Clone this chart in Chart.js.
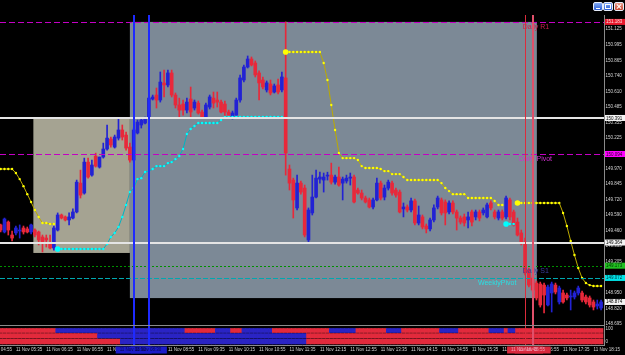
<!DOCTYPE html>
<html>
<head>
<meta charset="utf-8">
<script src="https://cdn.jsdelivr.net/npm/chart.js@4.4.0/dist/chart.umd.min.js"></script>
<style>
html, body { margin: 0; padding: 0; background: #000; }
#wrap { position: relative; width: 625px; height: 355px; overflow: hidden; background: #000; }
#c { position: absolute; left: 0; top: 0; }
.wb { position: absolute; top: 2px; width: 10px; height: 9px; box-sizing: border-box;
      border: 1px solid #e6ecfa; border-radius: 2px; background: linear-gradient(#82aaf4, #2a5cd4); }
.wb.cls { background: linear-gradient(#eaa090, #c8442e); }
.wb::after, .wb::before { content: ""; position: absolute; }
.wb.min::after { left: 2px; bottom: 1px; width: 4px; height: 1px; background: #fff; }
.wb.max::after { left: 1px; top: 1px; width: 4px; height: 3px; border: 1px solid #fff; }
.wb.cls::after, .wb.cls::before { left: 1px; top: 3px; width: 6px; height: 1px; background: #fff; }
.wb.cls::after { transform: rotate(45deg); }
.wb.cls::before { transform: rotate(-45deg); }
</style>
</head>
<body>
<div id="wrap">
  <canvas id="c" width="625" height="355"></canvas>
  <div class="wb min" style="left:593px"></div>
  <div class="wb max" style="left:603px"></div>
  <div class="wb cls" style="left:614px"></div>
</div>
<script>
// 5 minute bars, bar 0 = 11 Nov 05:15
var opens = [149.509,149.451,149.533,149.426,149.443,149.459,149.484,149.476,149.451,149.467,
  149.451,149.410,149.401,149.360,149.319,149.467,149.591,149.575,149.550,149.566,
  149.616,149.854,149.772,150.027,149.920,150.077,149.986,150.069,150.135,150.217,
  150.151,150.225,150.292,150.250,150.151,150.044,150.267,150.333,150.349,150.399,
  150.547,150.580,150.539,150.679,150.663,150.762,150.580,150.498,150.506,150.456,
  150.547,150.473,150.514,150.440,150.399,150.481,150.555,150.539,150.522,150.506,
  150.440,150.399,150.415,150.539,150.704,150.811,150.877,150.844,150.762,150.704,
  150.622,150.671,150.605,150.663,150.622,150.721,149.970,149.879,149.649,149.854,
  149.813,149.385,149.608,149.739,149.887,149.879,149.912,149.920,149.862,149.904,
  149.854,149.871,149.895,149.904,149.797,149.772,149.731,149.715,149.657,149.715,
  149.854,149.739,149.813,149.854,149.797,149.780,149.641,149.657,149.632,149.707,
  149.525,149.575,149.500,149.476,149.550,149.657,149.715,149.698,149.616,149.690,
  149.616,149.566,149.575,149.550,149.616,149.575,149.616,149.608,149.575,149.690,
  149.616,149.566,149.616,149.575,149.715,149.616,149.533,149.443,149.368,149.137,
  149.071,149.030,149.022,149.013,148.849,148.948,149.013,148.874,148.948,148.931,
  148.915,148.915,148.948,148.948,148.915,148.907,148.874,148.841,148.824];
var highs = [149.517,149.566,149.542,149.459,149.500,149.509,149.500,149.492,149.517,149.476,
  149.459,149.426,149.426,149.426,149.500,149.608,149.599,149.583,149.608,149.641,
  149.879,149.961,150.060,150.060,150.044,150.101,150.069,150.184,150.333,150.234,
  150.250,150.390,150.333,150.275,150.184,150.308,150.374,150.390,150.399,150.572,
  150.580,150.638,150.770,150.786,150.786,150.786,150.597,150.555,150.539,150.555,
  150.646,150.539,150.531,150.456,150.514,150.580,150.605,150.605,150.539,150.531,
  150.456,150.448,150.555,150.745,150.828,150.902,150.894,150.861,150.779,150.729,
  150.696,150.704,150.671,150.712,150.770,151.183,150.003,149.895,149.920,149.871,
  149.838,149.649,149.920,149.961,149.944,149.937,149.944,150.019,149.920,149.986,
  149.904,149.920,149.937,149.920,149.813,149.797,149.747,149.731,149.731,149.895,
  149.871,149.838,149.879,149.871,149.813,149.797,149.690,149.674,149.731,149.723,
  149.665,149.591,149.517,149.566,149.674,149.747,149.731,149.715,149.707,149.707,
  149.632,149.583,149.599,149.616,149.632,149.632,149.632,149.649,149.690,149.707,
  149.632,149.632,149.632,149.747,149.731,149.632,149.566,149.467,149.401,149.154,
  149.096,149.046,149.038,149.030,149.013,149.038,149.030,149.005,148.972,148.948,
  148.972,148.964,149.005,148.964,148.931,148.923,148.890,148.890,148.890];
var lows = [149.451,149.443,149.426,149.377,149.426,149.401,149.434,149.443,149.434,149.410,
  149.344,149.286,149.327,149.311,149.302,149.459,149.558,149.542,149.509,149.558,
  149.608,149.731,149.763,149.895,149.912,149.986,149.978,150.060,150.126,150.151,
  150.143,150.209,150.209,150.126,150.027,150.027,150.259,150.308,150.341,150.390,
  150.539,150.473,150.522,150.564,150.646,150.564,150.473,150.399,150.415,150.432,
  150.399,150.456,150.423,150.390,150.390,150.465,150.473,150.481,150.432,150.399,
  150.399,150.382,150.399,150.522,150.688,150.803,150.820,150.729,150.539,150.630,
  150.605,150.581,150.597,150.589,150.605,149.920,149.797,149.566,149.632,149.763,
  149.410,149.360,149.591,149.731,149.854,149.780,149.879,149.846,149.846,149.829,
  149.715,149.854,149.838,149.690,149.763,149.715,149.690,149.649,149.641,149.707,
  149.715,149.715,149.797,149.755,149.739,149.608,149.575,149.616,149.616,149.509,
  149.509,149.476,149.443,149.459,149.533,149.641,149.591,149.509,149.599,149.599,
  149.467,149.517,149.500,149.484,149.500,149.550,149.542,149.591,149.566,149.632,
  149.558,149.550,149.550,149.558,149.550,149.500,149.418,149.344,149.096,148.997,
  148.956,148.890,148.832,148.783,148.841,148.791,148.940,148.857,148.865,148.890,
  148.808,148.898,148.931,148.874,148.857,148.832,148.808,148.816,148.808];
var closes = [149.467,149.558,149.467,149.401,149.484,149.467,149.451,149.451,149.509,149.426,
  149.385,149.360,149.385,149.319,149.484,149.591,149.566,149.550,149.575,149.616,
  149.862,149.755,150.027,149.904,150.003,149.994,150.069,150.135,150.225,150.168,
  150.234,150.292,150.234,150.143,150.044,150.292,150.357,150.374,150.382,150.555,
  150.564,150.539,150.687,150.663,150.762,150.580,150.498,150.456,150.456,150.522,
  150.440,150.522,150.432,150.399,150.498,150.564,150.514,150.522,150.440,150.440,
  150.415,150.432,150.539,150.721,150.811,150.877,150.828,150.746,150.680,150.647,
  150.680,150.597,150.655,150.605,150.729,150.102,149.854,149.715,149.854,149.780,
  149.426,149.632,149.739,149.895,149.904,149.904,149.920,149.862,149.904,149.838,
  149.887,149.895,149.904,149.698,149.772,149.731,149.698,149.657,149.715,149.854,
  149.731,149.813,149.862,149.772,149.755,149.616,149.657,149.632,149.707,149.525,
  149.591,149.492,149.476,149.550,149.649,149.731,149.608,149.608,149.690,149.616,
  149.566,149.533,149.525,149.575,149.533,149.616,149.566,149.632,149.674,149.649,
  149.575,149.616,149.566,149.731,149.575,149.509,149.426,149.368,149.113,149.013,
  148.972,148.907,148.849,148.931,148.997,149.022,148.956,148.989,148.874,148.907,
  148.923,148.948,148.989,148.890,148.874,148.849,148.832,148.857,148.874];

// trailing stop, yellow above price
var stopDown = [149.970,149.970,149.970,149.970,149.937,149.887,149.829,149.763,149.698,149.632,
  149.575,149.525,149.525,149.517,149.517,null,null,null,null,null,
  null,null,null,null,null,null,null,null,null,null,
  null,null,null,null,null,null,null,null,null,null,
  null,null,null,null,null,null,null,null,null,null,
  null,null,null,null,null,null,null,null,null,null,
  null,null,null,null,null,null,null,null,null,null,
  null,null,null,null,null,150.935,150.935,150.935,150.935,150.935,
  150.935,150.935,150.935,150.935,150.935,150.844,150.704,150.498,150.292,150.102,
  150.060,150.060,150.060,150.060,150.044,149.994,149.978,149.978,149.978,149.978,
  149.970,149.953,149.953,149.928,149.928,149.928,149.904,149.879,149.879,149.879,
  149.879,149.879,149.879,149.879,149.879,149.879,149.854,149.813,149.788,149.763,
  149.763,149.763,149.763,149.731,149.731,149.731,149.731,149.731,149.731,149.731,
  149.707,149.674,149.674,null,null,null,149.690,149.690,149.690,149.690,
  149.690,149.690,149.690,149.690,149.690,149.690,149.690,149.690,149.608,149.500,
  149.377,149.261,149.154,149.071,149.030,149.013,149.005,149.005,149.005];
// trailing stop, cyan below price
var stopUp = [null,null,null,null,null,null,null,null,null,null,
  null,null,null,null,null,149.311,149.311,149.311,149.311,149.311,
  149.311,149.311,149.311,149.311,149.311,149.311,149.311,149.311,149.352,149.410,
  149.443,149.492,149.575,149.674,149.780,149.813,149.887,149.895,149.945,149.953,
  149.970,149.994,149.994,149.994,150.019,150.027,150.052,150.077,150.135,150.259,
  150.300,150.325,150.349,150.349,150.349,150.349,150.349,150.349,150.374,150.399,
  150.399,150.399,150.399,150.399,150.399,150.399,150.399,150.399,150.399,150.399,
  150.399,150.399,150.399,150.399,150.399,null,null,null,null,null,
  null,null,null,null,null,null,null,null,null,null,
  null,null,null,null,null,null,null,null,null,null,
  null,null,null,null,null,null,null,null,null,null,
  null,null,null,null,null,null,null,null,null,null,
  null,null,null,null,null,null,null,null,null,null,
  null,null,null,149.517,149.517,149.517,null,null,null,null,
  null,null,null,null,null,null,null,null,null,null,
  null,null,null,null,null,null,null,null,null];
var stopStarts = [15, 75, 133, 136];

// trend strips in the sub window, run lengths from the left
var trendRow1 = [['dn',15],['up',34],['dn',8],['up',4],['dn',3],['up',8],['dn',15],['up',7],['dn',8],
  ['up',4],['dn',10],['up',5],['dn',8],['up',4],['dn',1],['up',2],['dn',23]];
var trendRow2 = [['dn',26],['up',55],['dn',78]];
var trendRow3 = [['dn',32],['up',49],['dn',78]];

// horizontal levels
var levelNames = ['Daily R1', '', 'Daily Pivot', '', 'Daily S1', 'WeeklyPivot'];
var levelPrices = [151.183, 150.391, 150.094, 149.364, 149.173, 149.072];
var levelLabelBars = [137.4, null, 136.4, null, 137.4, 125.6];

// rectangles (bar from, bar to, high, low)
var zoneFrom = [8.6, 34];
var zoneTo = [34, 141.1];
var zoneHigh = [150.391, 151.183];
var zoneLow = [149.278, 148.906];

// vertical lines
var vlineBars = [35, 39, 138, 140];
var vlineLabels = ['11 Nov 08:10', '11 Nov 08:30', '11 Nov 16:45', '11 Nov 16:55'];

// axis ticks
var timeTicks = [-4, 4, 12, 20, 28, 36, 44, 52, 60, 68, 76, 84, 92, 100, 108, 116, 124, 132, 140, 148, 156];
var timeTickLabels = ['11 Nov 04:55', '11 Nov 05:35', '11 Nov 06:15', '11 Nov 06:55', '11 Nov 07:35', '11 Nov 08:15',
  '11 Nov 08:55', '11 Nov 09:35', '11 Nov 10:15', '11 Nov 10:55', '11 Nov 11:35', '11 Nov 12:15', '11 Nov 12:55',
  '11 Nov 13:35', '11 Nov 14:15', '11 Nov 14:55', '11 Nov 15:35', '11 Nov 16:15', '11 Nov 16:55', '11 Nov 17:35', '11 Nov 18:15'];
var priceTicks = [151.125, 150.995, 150.865, 150.740, 150.610, 150.485, 150.355, 150.225, 149.970, 149.845,
  149.720, 149.590, 149.460, 149.335, 149.205, 148.950, 148.820, 148.695];
var subTicks = [100, 0];

// ---- styles ----
var BULL = '#2222d4', BEAR = '#e8283a';
var TREND = {up: '#2a24c4', dn: '#e22a3c'};
var rowBands = [[73, 104], [31, 65], [-15, 23]];
var zoneColors = ['#a5a392', '#7c8996'];
var levelStyles = [
  {color: '#c400c4', width: 1, dash: [6, 3], text: '#c8204c', box: '#e8182c', boxText: '#ffe0e0'},
  {color: '#e4e4e4', width: 2, dash: [], box: '#f4f4f4', boxText: '#000'},
  {color: '#c400c4', width: 1, dash: [6, 3], text: '#d030d0', box: '#ff00ff', boxText: '#200020'},
  {color: '#e4e4e4', width: 2, dash: [], box: '#f4f4f4', boxText: '#000'},
  {color: '#009000', width: 1, dash: [2, 2], text: '#3c3ca0', box: '#22c022', boxText: '#003000'},
  {color: '#00a8b0', width: 1, dash: [5, 2], text: '#28e0e4', box: '#00e4e8', boxText: '#003038'}
];
var vlineStyles = [
  {color: '#1e2aff', width: 2, box: '#1c1cc8', text: '#0a0a50'},
  {color: '#1e2aff', width: 2, box: '#1c1cc8', text: '#0a0a50'},
  {color: '#dc2c3c', width: 1, box: '#d8283c', text: '#f0a0b8'},
  {color: '#e0506a', width: 2, box: '#d8283c', text: '#f0a0b8'}
];
var FONT = '"Liberation Sans", Arial, sans-serif';

var bars = opens.map(function (v, i) { return i; });
var candleColors = bars.map(function (i) { return closes[i] >= opens[i] ? BULL : BEAR; });

function expand(runs) {
  var out = [];
  runs.forEach(function (r) { for (var k = 0; k < r[1]; k++) out.push(TREND[r[0]]); });
  return out;
}

function stopDataset(values, lineColor, dotColor) {
  return {
    type: 'line',
    data: values.map(function (v, i) { return {x: i, y: v}; }),
    borderColor: lineColor,
    borderWidth: 1,
    pointBackgroundColor: dotColor,
    pointBorderWidth: 0,
    pointRadius: function (c) { return stopStarts.indexOf(c.dataIndex) >= 0 ? 2.8 : 1.2; },
    spanGaps: false,
    tension: 0,
    order: 0
  };
}

function rowDataset(runs, band) {
  return {
    type: 'bar',
    yAxisID: 'y2',
    data: bars.map(function (i) { return {x: i, y: band}; }),
    backgroundColor: expand(runs),
    barThickness: 3.9,
    grouped: false,
    order: 4
  };
}

var overlay = {
  id: 'overlay',
  beforeDatasetsDraw: function (chart) {
    var ctx = chart.ctx, x = chart.scales.x, y = chart.scales.y;
    ctx.save();
    zoneFrom.forEach(function (from, k) {
      var x0 = x.getPixelForValue(from), x1 = x.getPixelForValue(zoneTo[k]);
      var y0 = y.getPixelForValue(zoneHigh[k]), y1 = y.getPixelForValue(zoneLow[k]);
      ctx.fillStyle = zoneColors[k];
      ctx.fillRect(x0, y0, x1 - x0, y1 - y0);
    });
    ctx.restore();
  },
  afterDatasetsDraw: function (chart) {
    var ctx = chart.ctx, ca = chart.chartArea, x = chart.scales.x, y = chart.scales.y;
    ctx.save();
    levelPrices.forEach(function (p, k) {
      var st = levelStyles[k];
      var py = Math.round(y.getPixelForValue(p)) + (st.width % 2 ? 0.5 : 0);
      ctx.strokeStyle = st.color;
      ctx.lineWidth = st.width;
      ctx.setLineDash(st.dash);
      ctx.beginPath();
      ctx.moveTo(ca.left, py);
      ctx.lineTo(ca.right, py);
      ctx.stroke();
    });
    ctx.setLineDash([]);
    ctx.font = '7px ' + FONT;
    ctx.textBaseline = 'top';
    levelNames.forEach(function (name, k) {
      if (!name) return;
      ctx.fillStyle = levelStyles[k].text;
      ctx.fillText(name, x.getPixelForValue(levelLabelBars[k]), y.getPixelForValue(levelPrices[k]) + 1.5);
    });
    vlineBars.forEach(function (b, k) {
      var st = vlineStyles[k];
      var px = Math.round(x.getPixelForValue(b)) + (st.width % 2 ? 0.5 : 0);
      ctx.strokeStyle = st.color;
      ctx.lineWidth = st.width;
      ctx.beginPath();
      ctx.moveTo(px, ca.top);
      ctx.lineTo(px, ca.bottom);
      ctx.stroke();
    });
    ctx.restore();
  },
  afterDraw: function (chart) {
    var ctx = chart.ctx, ca = chart.chartArea, x = chart.scales.x, y = chart.scales.y, y2 = chart.scales.y2;
    ctx.save();
    // sub window separator
    ctx.strokeStyle = '#8a8a8a';
    ctx.lineWidth = 1;
    ctx.beginPath();
    ctx.moveTo(ca.left, Math.round(y2.top) + 0.5);
    ctx.lineTo(ca.right, Math.round(y2.top) + 0.5);
    ctx.stroke();
    // price boxes on the right scale
    ctx.font = '4.5px ' + FONT;
    ctx.textBaseline = 'middle';
    var boxes = levelPrices.map(function (p, k) { return {p: p, bg: levelStyles[k].box, fg: levelStyles[k].boxText}; });
    boxes.push({p: closes[closes.length - 1], bg: '#f4f4f4', fg: '#000'});
    boxes.forEach(function (b) {
      var py = y.getPixelForValue(b.p);
      ctx.fillStyle = b.bg;
      ctx.fillRect(ca.right + 1, py - 3, chart.width - ca.right - 1, 6);
      ctx.fillStyle = b.fg;
      ctx.fillText(b.p.toFixed(3), ca.right + 2, py + 0.3);
    });
    // time boxes for the vertical lines
    ctx.textBaseline = 'top';
    vlineBars.forEach(function (b, k) {
      var st = vlineStyles[k];
      var px = x.getPixelForValue(b);
      ctx.fillStyle = st.box;
      ctx.fillRect(px - 18, ca.bottom + 1.5, 36, 7);
    });
    vlineBars.forEach(function (b, k) {
      var st = vlineStyles[k];
      var px = x.getPixelForValue(b);
      ctx.fillStyle = st.text;
      ctx.fillText(vlineLabels[k], px - 14, ca.bottom + 2.5);
    });
    ctx.restore();
  }
};

new Chart(document.getElementById('c'), {
  type: 'bar',
  data: {
    datasets: [
      stopDataset(stopUp, '#00b4c4', '#00ffff'),
      stopDataset(stopDown, '#bcaa00', '#ffff00'),
      {
        type: 'bar',
        data: bars.map(function (i) { return {x: i, y: [opens[i], closes[i]]}; }),
        backgroundColor: candleColors,
        barThickness: 3,
        minBarLength: 1,
        grouped: false,
        order: 2
      },
      {
        type: 'bar',
        data: bars.map(function (i) { return {x: i, y: [lows[i], highs[i]]}; }),
        backgroundColor: candleColors,
        barThickness: 1,
        grouped: false,
        order: 3
      },
      rowDataset(trendRow1, rowBands[0]),
      rowDataset(trendRow2, rowBands[1]),
      rowDataset(trendRow3, rowBands[2])
    ]
  },
  options: {
    responsive: false,
    animation: false,
    devicePixelRatio: 1,
    layout: {autoPadding: false, padding: {top: 15, left: 0, right: 0, bottom: 0}},
    plugins: {legend: {display: false}, tooltip: {enabled: false}},
    scales: {
      x: {
        type: 'linear',
        offset: false,
        min: -0.18,
        max: 158.77,
        grid: {display: false, drawTicks: false, offset: false},
        border: {display: true, color: '#8a8a8a'},
        afterBuildTicks: function (s) { s.ticks = timeTicks.map(function (v) { return {value: v}; }); },
        afterFit: function (s) { s.height = 10; s.paddingLeft = 0; s.paddingRight = 0; },
        ticks: {
          autoSkip: false, maxRotation: 0, align: 'start', padding: 2,
          color: '#d4d4d4', font: {family: FONT, size: 4.5},
          callback: function (v) { return timeTickLabels[timeTicks.indexOf(v)]; }
        }
      },
      y: {
        position: 'right',
        stack: 'mt',
        stackWeight: 310,
        min: 148.684,
        max: 151.240,
        grid: {display: false, drawTicks: false},
        border: {display: true, color: '#8a8a8a'},
        afterBuildTicks: function (s) { s.ticks = priceTicks.map(function (v) { return {value: v}; }); },
        afterFit: function (s) { s.width = 21; s.paddingTop = 0; s.paddingBottom = 0; },
        ticks: {padding: 1.5, color: '#d4d4d4', font: {family: FONT, size: 4.5},
          callback: function (v) { return v.toFixed(3); }}
      },
      y2: {
        position: 'right',
        stack: 'mt',
        stackWeight: 20,
        min: -23.1,
        max: 130.8,
        grid: {display: false, drawTicks: false},
        border: {display: true, color: '#8a8a8a'},
        afterBuildTicks: function (s) { s.ticks = subTicks.map(function (v) { return {value: v}; }); },
        afterFit: function (s) { s.width = 21; s.paddingTop = 0; s.paddingBottom = 0; },
        ticks: {padding: 1.5, color: '#d4d4d4', font: {family: FONT, size: 4.5},
          callback: function (v) { return String(v); }}
      }
    }
  },
  plugins: [overlay]
});
</script>
</body>
</html>
